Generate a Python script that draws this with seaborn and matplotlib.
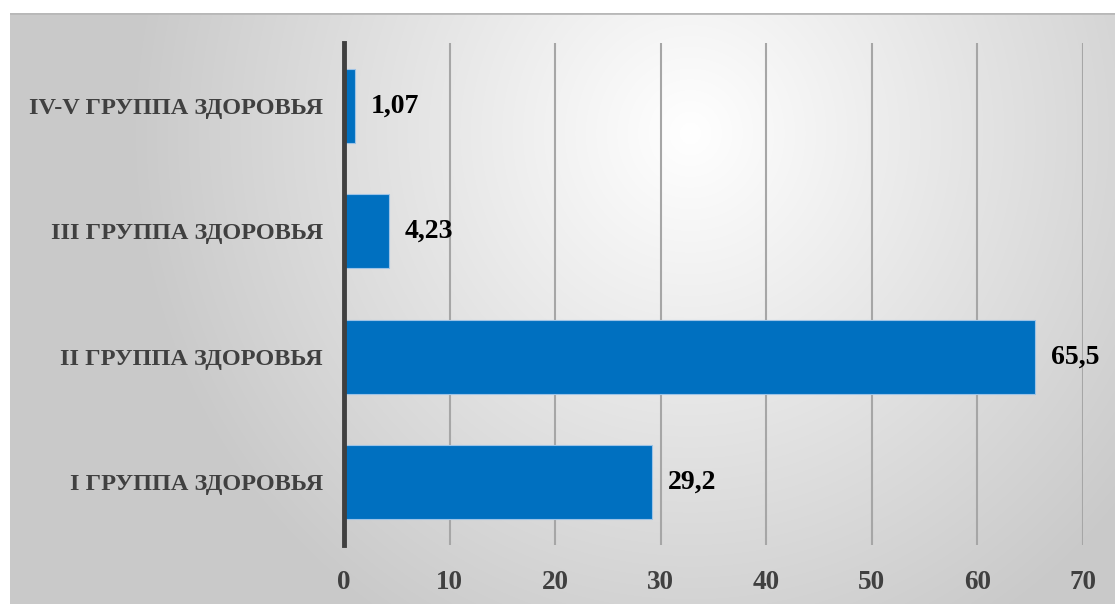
import numpy as np
import pandas as pd
import matplotlib
matplotlib.use("Agg")
import matplotlib.pyplot as plt
import seaborn as sns

# Data
categories = ["IV-V ГРУППА ЗДОРОВЬЯ", "III ГРУППА ЗДОРОВЬЯ", "II ГРУППА ЗДОРОВЬЯ", "I ГРУППА ЗДОРОВЬЯ"]
values = [1.07, 4.23, 65.5, 29.2]
value_labels = ["1,07", "4,23", "65,5", "29,2"]
x_ticks = [0, 10, 20, 30, 40, 50, 60, 70]

df = pd.DataFrame({"group": categories, "value": values})

sns.set_theme(style="white")
plt.rcParams["font.family"] = ["Liberation Serif", "DejaVu Serif"]

W, H = 1115, 604
fig = plt.figure(figsize=(W / 100, H / 100), dpi=100)
fig.patch.set_facecolor("white")

# radial gradient panel behind the chart
bg = fig.add_axes([10 / W, 0, 1 - 10 / W, 1 - 13 / H], zorder=0)
yy, xx = np.mgrid[0:591, 0:1105]
cx, cy = 680, 120
d = np.sqrt(((xx - cx) / 560) ** 2 + ((yy - cy) / 580) ** 2)
d = np.clip(d, 0, 1)
shade = 1.0 - 0.21 * d
bg.imshow(np.dstack([shade] * 3), aspect="auto", extent=[0, 1, 0, 1])
bg.axhline(1, color="#b8b8b8", lw=2)
bg.set_axis_off()

ax = fig.add_axes([344 / W, 1 - 545 / H, (1083 - 344) / W, (545 - 43) / H], zorder=1)
ax.patch.set_alpha(0)

sns.barplot(data=df, x="value", y="group", orient="h", color="#0070C0",
            saturation=1, width=0.59, edgecolor="#9dc3e6", linewidth=0.8, ax=ax, zorder=3)

for i, (v, lab) in enumerate(zip(values, value_labels)):
    ax.text(v + 1.5, i, lab, va="center", ha="left", fontsize=20,
            fontweight="bold", color="black", zorder=4)

ax.set_xlim(0, 70)
ax.set_ylim(3.5, -0.5)
ax.set_xticks(x_ticks)
ax.set_xticklabels([str(t) for t in x_ticks], fontsize=19.5, fontweight="bold", color="#404040")
ax.tick_params(axis="x", length=0, pad=18)
ax.tick_params(axis="y", length=0, pad=15)
for lbl in ax.get_yticklabels():
    lbl.set_fontsize(17.5)
    lbl.set_fontweight("bold")
    lbl.set_color("#404040")
ax.set_xlabel("")
ax.set_ylabel("")
ax.grid(axis="x", color="#a6a6a6", lw=1.5, zorder=0)
ax.set_axisbelow(True)
for s in ["top", "right", "bottom"]:
    ax.spines[s].set_visible(False)
ax.spines["left"].set_color("#404040")
ax.spines["left"].set_linewidth(3.5)
ax.spines["left"].set_zorder(5)

fig.savefig("out.png", dpi=100)
